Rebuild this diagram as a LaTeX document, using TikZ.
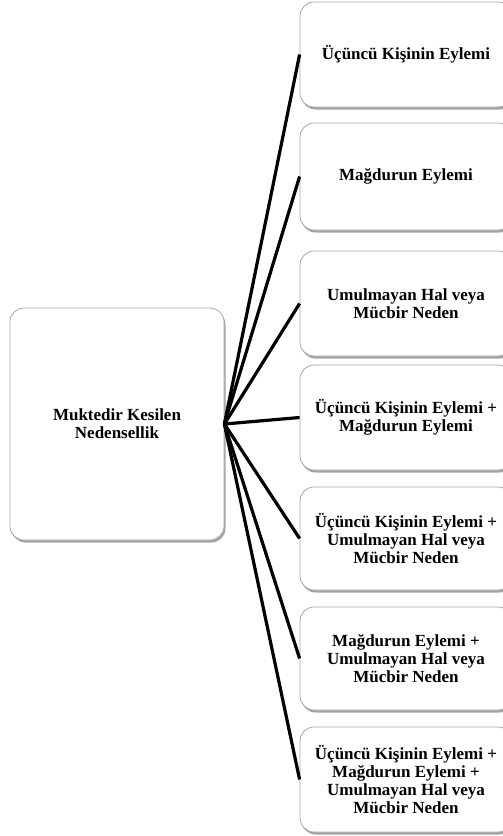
\documentclass[tikz,border=0pt]{standalone}
\usepackage{fontspec}
\setmainfont{Liberation Serif}
\usetikzlibrary{shadows}

\begin{document}
\begin{tikzpicture}[x=1pt,y=-1pt,
  causebox/.style={draw=gray!70,line width=0.8pt,fill=white,rounded corners=14pt,
    drop shadow={shadow xshift=1.5pt,shadow yshift=-2.5pt,opacity=0.45,fill=black!80},
    align=center,inner sep=0pt,font=\fontsize{17}{18}\selectfont\bfseries},
  link/.style={line width=3.2pt,black}]
  \useasboundingbox (0,0) rectangle (503,836);
  \node[causebox,minimum width=214pt,minimum height=232pt] (root) at (117,424)
    {Muktedir Kesilen\\Nedensellik};
  \foreach \y/\h/\txt [count=\i] in {
      54.5/105/{Üçüncü Kişinin Eylemi},
      176.5/107/{Mağdurun Eylemi},
      303.5/105/{Umulmayan Hal veya\\Mücbir Neden},
      417.5/105/{Üçüncü Kişinin Eylemi +\\Mağdurun Eylemi},
      538.5/103/{Üçüncü Kişinin Eylemi +\\Umulmayan Hal veya\\Mücbir Neden},
      658.5/103/{Mağdurun Eylemi +\\Umulmayan Hal veya\\Mücbir Neden},
      779.5/105/{Üçüncü Kişinin Eylemi +\\Mağdurun Eylemi +\\Umulmayan Hal veya\\Mücbir Neden}} {
    \node[causebox,minimum width=212pt,minimum height=\h pt] (c\i) at (406,\y) {\txt};
    \draw[link] (root.east) -- (c\i.west);
  }
\end{tikzpicture}
\end{document}
